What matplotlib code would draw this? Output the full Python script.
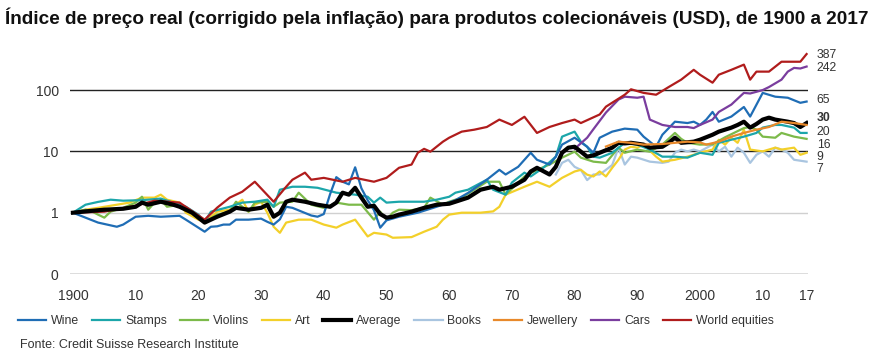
import matplotlib
matplotlib.use("Agg")
import matplotlib.pyplot as plt
from matplotlib import font_manager

# =========================================================
# DATA (log scale)
# =========================================================

wine_years = [1900, 1902, 1904, 1907, 1908, 1910, 1912, 1914, 1917, 1918, 1920, 1921,
              1922, 1923, 1924, 1925, 1926, 1928, 1930, 1931, 1932, 1933, 1934, 1935,
              1938, 1939, 1940, 1941, 1942, 1943, 1944, 1945, 1946, 1947, 1948, 1949,
              1950, 1952, 1955, 1958, 1961, 1963, 1966, 1968, 1969, 1971, 1973, 1974,
              1976, 1977, 1978, 1980, 1982, 1983, 1984, 1986, 1988, 1990, 1991, 1993,
              1994, 1996, 1998, 1999, 2000, 2001, 2002, 2003, 2005, 2007, 2008, 2010,
              2012, 2014, 2016, 2017]
wine = [1.0, 0.83, 0.69, 0.59, 0.64, 0.86, 0.89, 0.86, 0.89, 0.77, 0.57, 0.49,
        0.59, 0.6, 0.64, 0.64, 0.77, 0.77, 0.8, 0.71, 0.64, 0.78, 1.25, 1.2,
        0.9, 0.86, 0.95, 2.0, 3.8, 3.2, 2.9, 5.5, 2.5, 1.6, 1.1, 0.57,
        0.75, 0.86, 1.0, 1.25, 1.6, 2.1, 3.45, 5.0, 4.2, 5.6, 9.5, 7.3,
        6.1, 8.2, 12.9, 16.7, 11.9, 9.5, 16.7, 21, 23.5, 22.6, 17.4, 11.9,
        18.7, 30.5, 29, 30.5, 27, 33, 44, 30.5, 37, 53, 37, 90,
        78, 75, 62, 65]

stamps_years = [1900, 1902, 1904, 1906, 1908, 1911, 1914, 1916, 1918, 1920, 1921, 1922,
                1925, 1927, 1929, 1931, 1932, 1933, 1935, 1937, 1939, 1942, 1945, 1947,
                1948, 1949, 1950, 1952, 1956, 1958, 1960, 1961, 1963, 1966, 1967, 1969,
                1970, 1972, 1973, 1975, 1977, 1978, 1980, 1981, 1982, 1983, 1984, 1986,
                1988, 1990, 1992, 1994, 1996, 1998, 2000, 2002, 2003, 2005, 2007, 2009,
                2010, 2012, 2013, 2015, 2016, 2017]
stamps = [1.0, 1.35, 1.5, 1.63, 1.57, 1.6, 1.7, 1.46, 1.25, 0.93, 0.71, 1.04,
          1.25, 1.46, 1.51, 1.63, 1.25, 2.37, 2.65, 2.65, 2.55, 2.12, 1.97, 1.82,
          1.46, 1.76, 1.46, 1.51, 1.51, 1.63, 1.82, 2.12, 2.37, 3.45, 2.37, 1.97,
          3.1, 4.5, 3.9, 5.4, 8.2, 17.4, 21, 14.4, 11.9, 8.2, 7.9, 9.5,
          13.8, 12.9, 10.7, 8.2, 8.2, 7.9, 9.5, 8.8, 13.8, 15.5, 17.4, 20,
          24.4, 27, 27, 24.4, 20, 20]

violins_years = [1900, 1902, 1903, 1904, 1905, 1906, 1908, 1910, 1911, 1912, 1913, 1914,
                 1915, 1917, 1918, 1920, 1921, 1923, 1925, 1926, 1928, 1929, 1931, 1932,
                 1933, 1935, 1936, 1938, 1940, 1941, 1942, 1944, 1946, 1948, 1949, 1950,
                 1951, 1952, 1954, 1956, 1957, 1959, 1960, 1962, 1964, 1966, 1968, 1969,
                 1971, 1972, 1974, 1976, 1978, 1980, 1981, 1983, 1985, 1987, 1988, 1990,
                 1992, 1994, 1996, 1997, 1998, 2000, 2002, 2004, 2007, 2008, 2009, 2010,
                 2012, 2013, 2015, 2017]
violins = [1.0, 1.12, 1.05, 0.93, 0.83, 1.04, 1.2, 1.46, 1.82, 1.12, 1.46, 1.63,
           1.25, 1.35, 1.2, 0.86, 0.71, 0.93, 1.04, 1.51, 1.04, 1.46, 1.51, 1.25,
           1.46, 1.51, 2.12, 1.35, 1.2, 1.3, 1.46, 1.35, 1.35, 0.77, 1.04, 0.77,
           1.0, 1.12, 1.1, 1.2, 1.76, 1.35, 1.51, 1.76, 2.37, 3.2, 3.2, 1.97,
           3.09, 3.9, 5.0, 6.1, 7.9, 9.9, 7.9, 6.8, 6.5, 11.5, 9.5, 10.7,
           9.9, 12.9, 20, 16, 13.8, 12.9, 13, 17, 24, 25, 22.6, 17.4,
           16.7, 20, 17.4, 16]

art_years = [1900, 1902, 1904, 1907, 1909, 1911, 1913, 1914, 1915, 1917, 1918, 1920,
             1921, 1923, 1925, 1927, 1928, 1929, 1930, 1931, 1932, 1933, 1934, 1936,
             1938, 1940, 1942, 1943, 1945, 1947, 1948, 1950, 1951, 1954, 1956, 1958,
             1959, 1960, 1962, 1965, 1967, 1968, 1969, 1972, 1974, 1976, 1978, 1980,
             1981, 1982, 1983, 1984, 1985, 1986, 1987, 1988, 1989, 1990, 1991, 1993,
             1994, 1996, 1998, 1999, 2000, 2002, 2003, 2004, 2005, 2006, 2007, 2008,
             2010, 2012, 2013, 2015, 2016, 2017]
art = [1.0, 1.12, 1.2, 1.35, 1.46, 1.76, 1.76, 1.97, 1.63, 1.46, 1.0, 0.77,
       0.71, 1.04, 1.12, 1.63, 1.04, 1.35, 1.51, 1.0, 0.59, 0.47, 0.69, 0.77,
       0.77, 0.64, 0.57, 0.64, 0.77, 0.41, 0.47, 0.44, 0.39, 0.4, 0.49, 0.59,
       0.77, 0.93, 1.0, 1.0, 1.05, 1.25, 1.97, 2.65, 3.2, 2.65, 3.7, 4.7,
       5.0, 4.17, 3.9, 4.7, 3.9, 5.4, 7.3, 10.7, 11.9, 11.5, 12.9, 8.2,
       6.8, 7.3, 8.2, 8.8, 9.5, 10.7, 15.5, 12.9, 16.7, 13.8, 22.6, 10.7,
       10, 11.5, 10.7, 11.5, 8.8, 9.5]

avg_years = [1900, 1902, 1905, 1908, 1910, 1911, 1912, 1914, 1916, 1917, 1919, 1921,
             1923, 1925, 1926, 1928, 1930, 1931, 1932, 1933, 1934, 1935, 1937, 1939,
             1941, 1942, 1943, 1944, 1945, 1946, 1947, 1948, 1949, 1950, 1951, 1952,
             1954, 1956, 1958, 1960, 1961, 1963, 1965, 1967, 1968, 1970, 1972, 1973,
             1974, 1976, 1977, 1978, 1979, 1980, 1981, 1982, 1983, 1984, 1986, 1987,
             1988, 1989, 1991, 1992, 1994, 1995, 1996, 1997, 1999, 2000, 2002, 2003,
             2005, 2006, 2007, 2008, 2009, 2010, 2011, 2012, 2014, 2015, 2016, 2017]
average = [1.0, 1.05, 1.12, 1.16, 1.25, 1.46, 1.35, 1.51, 1.35, 1.25, 1.0, 0.69,
           0.86, 1.04, 1.2, 1.12, 1.2, 1.35, 0.86, 1.0, 1.51, 1.63, 1.51, 1.35,
           1.25, 1.46, 2.12, 1.97, 2.55, 1.76, 1.25, 1.3, 0.95, 0.83, 0.86, 0.93,
           1.04, 1.2, 1.35, 1.4, 1.51, 1.76, 2.37, 2.65, 2.37, 2.65, 3.45, 4.7,
           5.4, 4.2, 5.6, 9.5, 11.5, 11.9, 9.9, 8.2, 8.6, 9.5, 11.5, 13.8,
           13.5, 13.8, 12.9, 11.5, 11.9, 13.8, 16.7, 13.8, 14.4, 15.5, 18.7, 21,
           24.4, 27, 30.5, 24.4, 28, 33, 35.5, 33, 30.5, 29, 25, 29]

books_years = [1977, 1978, 1979, 1980, 1981, 1982, 1983, 1984, 1985, 1986, 1987, 1988,
               1989, 1990, 1992, 1994, 1995, 1996, 1997, 1998, 1999, 2000, 2002, 2003,
               2004, 2005, 2006, 2007, 2008, 2009, 2010, 2011, 2012, 2013, 2014, 2015,
               2017]
books = [4.2, 6.5, 7.3, 5.6, 5.0, 3.4, 4.2, 4.2, 5.0, 6.0, 11.5, 6.1,
         8.2, 7.9, 6.8, 6.5, 6.8, 9.5, 10.7, 10, 10.7, 10, 12.9, 10,
         11.9, 8.2, 11.5, 9.5, 6.5, 8.8, 10, 8.2, 11.5, 10.7, 9.5, 7.3,
         6.8]

jewellery_years = [1985, 1987, 1989, 1991, 1994, 1996, 1998, 2000, 2001, 2003, 2005,
                   2007, 2009, 2011, 2013, 2015, 2017]
jewellery = [12, 14.4, 13.8, 12.9, 13.2, 13.8, 14.4, 14, 12.9, 14.4, 17.4,
             20, 22.6, 25, 30.5, 29, 27]

cars_years = [1980, 1982, 1983, 1985, 1987, 1988, 1990, 1991, 1992, 1994, 1996, 1998,
              1999, 2000, 2002, 2003, 2005, 2007, 2008, 2010, 2011, 2013, 2014, 2015,
              2016, 2017]
cars = [11, 16.7, 23, 43, 70, 78, 75, 78, 33, 27, 25, 25,
        24, 27, 33, 44, 58, 90, 88, 100, 112, 148, 200, 230,
        225, 242]

equities_years = [1900, 1905, 1910, 1913, 1917, 1921, 1923, 1925, 1927, 1929, 1932, 1934,
                  1935, 1937, 1938, 1940, 1943, 1945, 1948, 1950, 1952, 1954, 1955, 1956,
                  1957, 1959, 1960, 1962, 1964, 1966, 1968, 1970, 1972, 1974, 1976, 1978,
                  1980, 1981, 1984, 1985, 1988, 1989, 1991, 1993, 1995, 1997, 1999, 2000,
                  2002, 2003, 2005, 2007, 2008, 2009, 2011, 2013, 2016, 2017]
equities = [1.0, 1.04, 1.3, 1.57, 1.46, 0.77, 1.21, 1.76, 2.2, 3.2, 1.51, 2.65,
            3.45, 4.5, 3.45, 3.7, 3.2, 3.7, 3.2, 3.7, 5.4, 6.1, 9.5, 11.0,
            9.9, 14.4, 16.7, 21, 22.6, 25, 33, 27, 36.7, 20, 25, 29,
            33, 29, 40, 53.6, 84, 103, 90, 84, 112, 148, 214, 178,
            132, 178, 214, 260, 148, 200, 200, 290, 290, 387]

end_labels = ["387", "242", "65", "30", "20", "16", "9", "7"]

x_ticks = [1900, 1910, 1920, 1930, 1940, 1950, 1960, 1970, 1980, 1990, 2000, 2010, 2017]
x_tick_labels = ["1900", "10", "20", "30", "40", "50", "60", "70", "80", "90", "2000", "10", "17"]
y_ticks = [0.1, 1, 10, 100]
y_tick_labels = ["0", "1", "10", "100"]

# =========================================================
# FONTS
# =========================================================

installed = {f.name for f in font_manager.fontManager.ttflist}
narrow = "Liberation Sans Narrow" if "Liberation Sans Narrow" in installed else "Liberation Sans"
plt.rcParams["font.family"] = [narrow, "DejaVu Sans"]

text_col = "#333333"

# =========================================================
# FIGURE
# =========================================================

fig = plt.figure(figsize=(8.83, 3.58), dpi=100)
ax = fig.add_axes([0.0791, 0.2346, 0.8365, 0.6508])
ax.set_yscale("log")
ax.set_xlim(1899.5, 2017.3)
ax.set_ylim(0.1, 631)

for s in ax.spines.values():
    s.set_visible(False)

ax.axhline(0.1, color="#555555", lw=1.0, zorder=1)
ax.axhline(1, color="#d0d0d0", lw=1.0, zorder=1)
ax.axhline(10, color="#222222", lw=1.0, zorder=1)
ax.axhline(100, color="#222222", lw=1.0, zorder=1)

series = [
    ("Books", books_years, books, "#a9c5e0", 1.6),
    ("Art", art_years, art, "#f3d02a", 1.6),
    ("Violins", violins_years, violins, "#7cba4a", 1.6),
    ("Stamps", stamps_years, stamps, "#1ca6aa", 1.6),
    ("Wine", wine_years, wine, "#1f6db5", 1.6),
    ("Cars", cars_years, cars, "#7a3d9e", 1.6),
    ("World equities", equities_years, equities, "#b01c1c", 1.6),
    ("Average", avg_years, average, "#000000", 3.0),
    ("Jewellery", jewellery_years, jewellery, "#e8892b", 1.6),
]

handles = {}
for name, xs, ys, col, lw in series:
    line, = ax.plot(xs, ys, color=col, lw=lw, label=name, zorder=3,
                    solid_joinstyle="round")
    handles[name] = line

ax.set_xticks(x_ticks)
ax.set_xticklabels(x_tick_labels)
ax.set_yticks(y_ticks)
ax.set_yticklabels(y_tick_labels)
ax.minorticks_off()
ax.tick_params(axis="both", length=0, labelsize=10, colors=text_col)
ax.tick_params(axis="x", pad=11)
ax.tick_params(axis="y", pad=8)

# end-of-line labels
label_y = [378, 232, 70, 35.4, 20.9, 12.9, 8.2, 5.2]
for txt, yv in zip(end_labels, label_y):
    ax.text(2018.6, yv, txt, fontsize=8.8, color=text_col, va="center", ha="left",
            fontweight="bold" if txt == "30" else "normal",
            family=["Liberation Sans", "DejaVu Sans"], clip_on=False)

# =========================================================
# TITLE, LEGEND, SOURCE
# =========================================================

fig.text(5 / 883, 1 - 18 / 358,
         "Índice de preço real (corrigido pela inflação) para produtos colecionáveis (USD), de 1900 a 2017",
         fontsize=13.65, fontweight="bold", color="#111111", va="center", ha="left",
         family=["Liberation Sans", "DejaVu Sans"])

legend_order = ["Wine", "Stamps", "Violins", "Art", "Average", "Books", "Jewellery", "Cars", "World equities"]
fig.legend([handles[n] for n in legend_order], legend_order,
           loc="center left", bbox_to_anchor=(18 / 883, 1 - 321 / 358),
           ncol=9, frameon=False, fontsize=8.8, handlelength=2.3,
           handletextpad=0.4, columnspacing=1.05, labelcolor=text_col,
           borderaxespad=0, borderpad=0)

fig.text(20 / 883, 1 - 345 / 358, "Fonte: Credit Suisse Research Institute",
         fontsize=9, color=text_col, va="center", ha="left")

fig.savefig("out.png", dpi=100)
